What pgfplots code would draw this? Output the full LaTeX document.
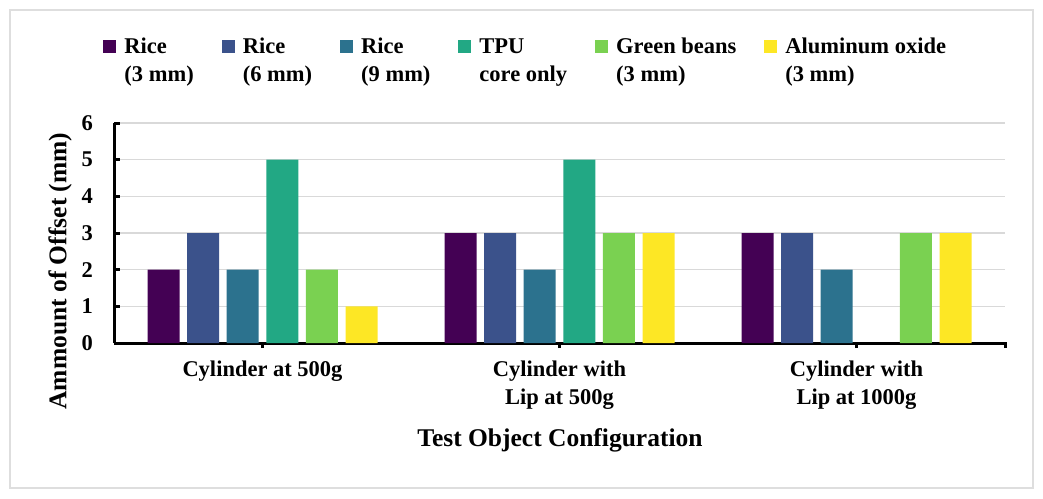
\documentclass[border=0pt]{standalone}
\usepackage{pgfplots}
\pgfplotsset{compat=1.18}
\usepackage{fontspec}
\setmainfont{Liberation Serif}
\definecolor{c1}{HTML}{440154}
\definecolor{c2}{HTML}{3B528B}
\definecolor{c3}{HTML}{2C728E}
\definecolor{c4}{HTML}{22A884}
\definecolor{c5}{HTML}{7AD151}
\definecolor{c6}{HTML}{FDE725}
\begin{document}
\begin{tikzpicture}[font=\bfseries\fontsize{22.5}{28}\selectfont]
\path[use as bounding box] (0pt,0pt) rectangle (1043pt,498pt);
\draw[line width=1.5pt, black!13] (10pt,10pt) rectangle (1033pt,488pt);
\begin{axis}[
  at={(114pt,155pt)}, anchor=south west,
  scale only axis, width=891pt, height=220pt,
  xmin=-0.5, xmax=2.5, ymin=0, ymax=6,
  ybar=7.6pt, bar width=32pt,
  axis x line*=bottom, axis y line*=left,
  axis line style={line width=3pt, black},
  xtick={0,1,2},
  xticklabels={{Cylinder at 500g},{Cylinder with\\Lip at 500g},{Cylinder with\\Lip at 1000g}},
  extra x ticks={2.5}, extra x tick labels={},
  ytick={0,1,2,3,4,5,6},
  /pgf/number format/assume math mode=true,
  xticklabel style={align=center, anchor=north, inner sep=0pt, yshift=-18pt},
  yticklabel style={anchor=east, inner sep=0pt, xshift=-21pt},
  tick align=inside, major tick length=6pt,
  tick style={line width=3pt, black},
  xtick style={yshift=-5pt},
  ymajorgrids, grid style={line width=1.2pt, black!15},
  xlabel={Test Object Configuration},
  ylabel={Ammount of Offset (mm)},
  label style={font=\bfseries\fontsize{25.5}{30}\selectfont},
  xlabel style={at={(axis description cs:0.5005,-0.441)}, anchor=center},
  ylabel style={at={(axis description cs:-0.0606,0.327)}, anchor=center},
  legend columns=6,
  legend style={at={(axis description cs:0.461,1.39)}, anchor=north,
    draw=none, fill=none, inner sep=0pt,
    cells={align=left, anchor=base west},
    nodes={inner sep=0pt},
    /tikz/every even column/.append style={column sep=28pt},
    /tikz/every odd column/.append style={column sep=8pt}},
  legend image code/.code={\fill[#1] (0pt,28pt) rectangle (13pt,41pt);},
]
\addplot[fill=c1, draw=none] coordinates {(0,2) (1,3) (2,3)};
\addplot[fill=c2, draw=none] coordinates {(0,3) (1,3) (2,3)};
\addplot[fill=c3, draw=none] coordinates {(0,2) (1,2) (2,2)};
\addplot[fill=c4, draw=none] coordinates {(0,5) (1,5)};
\addplot[fill=c5, draw=none] coordinates {(0,2) (1,3) (2,3)};
\addplot[fill=c6, draw=none] coordinates {(0,1) (1,3) (2,3)};
\legend{{Rice\\(3 mm)},{Rice\\(6 mm)},{Rice\\(9 mm)},{TPU\\core only},{Green beans\\(3 mm)},{Aluminum oxide\\(3 mm)}}
\end{axis}
\end{tikzpicture}
\end{document}
